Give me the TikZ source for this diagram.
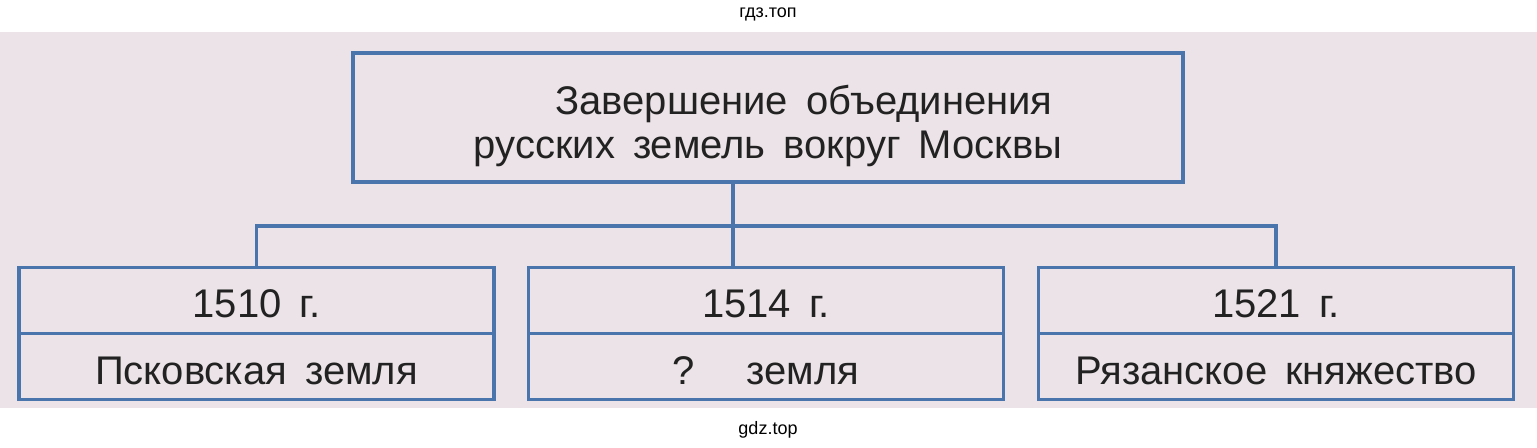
\documentclass[tikz,border=0pt]{standalone}
\usepackage{fontspec}
\setmainfont{Liberation Sans}
\usepackage{xcolor}
\usepackage{tikz}
\usetikzlibrary{shapes,shapes.multipart}
\usetikzlibrary{calc,positioning}
\definecolor{bandpink}{RGB}{235,227,231}
\definecolor{lineblue}{RGB}{74,116,172}
\definecolor{inkgray}{RGB}{34,34,34}
\newcommand{\widesp}{\spaceskip=0.45em\relax}
\newcommand{\yrstrut}{\rule[-3pt]{0pt}{23.5pt}}
\tikzset{
  box_top/.style = {draw=lineblue, line width=1.6pt, minimum width=415pt, minimum height=64.5pt, align=center, text=inkgray, font=\fontsize{20}{22}\selectfont\widesp},
  box_year/.style = {rectangle split, rectangle split parts=2, draw=lineblue, line width=1.6pt, minimum width=237.5pt, inner ysep=4pt, text=inkgray, font=\fontsize{20}{22}\selectfont\widesp},
  link/.style = {draw=lineblue, line width=1.6pt},
  wmark/.style = {font=\fontsize{9}{10}\selectfont, text=black}
}
\begin{document}
\begin{tikzpicture}[x=0.5pt,y=-0.5pt]
  \useasboundingbox (0,0) rectangle (1537,448);
  \fill[bandpink] (0,32) rectangle (1537,408);
  \node[wmark] (wm_top) at (768,14) {гдз.топ};
  \node[wmark] (wm_bot) at (768,430) {gdz.top};
  \node[box_top] (main) at (768,117.5) {\hspace*{36pt}\rule{0pt}{23pt}Завершение объединения\\русских земель вокруг Москвы};
  \node[box_year] (pskov) at (256.5,333.5) {\yrstrut 1510 г.\nodepart{two}\yrstrut Псковская земля};
  \node[box_year] (q) at (766,333.5) {\yrstrut 1514 г.\nodepart{two}\yrstrut ?\hspace{1.3em}земля};
  \node[box_year] (ryazan) at (1276,333.5) {\yrstrut 1521 г.\nodepart{two}\yrstrut Рязанское княжество};
  \coordinate (fork) at (733,226);
  \draw[link] (main.south -| fork) -- (q.north -| fork);
  \draw[link] (pskov.north) |- (fork) -| (ryazan.north);
\end{tikzpicture}
\end{document}
